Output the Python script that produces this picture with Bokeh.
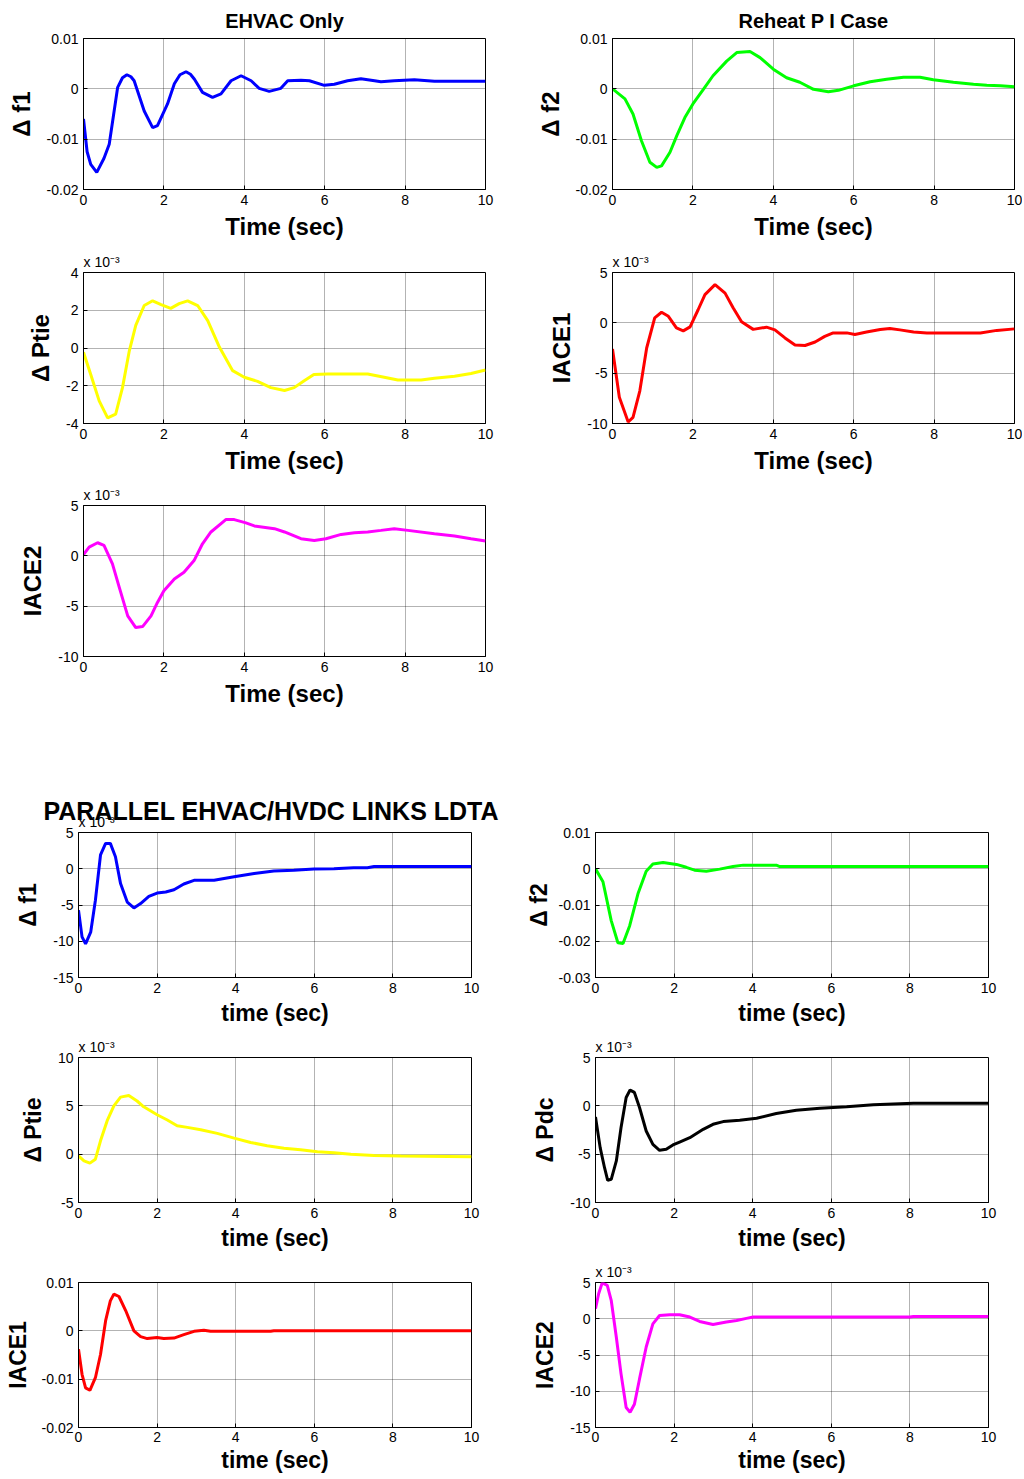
from bokeh.plotting import figure
from bokeh.models import Range1d, FixedTicker, CustomJSTickFormatter, Title
from bokeh.layouts import column, row
from bokeh.embed import file_html
from bokeh.resources import INLINE

FONT = "Liberation Sans"

# ---------------- data: EHVAC only / Reheat PI case ----------------
time_ticks = [0, 2, 4, 6, 8, 10]
scale_note = "x 10⁻³"

t_ehvac_df1 = [0, 0.09, 0.18, 0.33, 0.51, 0.64, 0.85, 0.97, 1.08, 1.18, 1.26, 1.51, 1.72, 1.84, 2.09, 2.26,
               2.4, 2.55, 2.66, 2.76, 2.96, 3.21, 3.42, 3.67, 3.92, 4.17, 4.37, 4.62, 4.91, 5.08, 5.41,
               5.62, 5.99, 6.24, 6.57, 6.9, 7.24, 7.4, 7.73, 8.23, 8.73, 10]
ehvac_df1 = [-0.006, -0.0125, -0.015, -0.0166, -0.0138, -0.011, 0.0003, 0.0022, 0.0028, 0.0024, 0.0016,
             -0.0044, -0.0077, -0.0073, -0.003, 0.001, 0.0028, 0.0034, 0.0029, 0.0019, -0.0007, -0.0017,
             -0.001, 0.0016, 0.0026, 0.0016, 0.0001, -0.0005, 0.0001, 0.0016, 0.0017, 0.0016, 0.0007,
             0.0009, 0.0016, 0.002, 0.0016, 0.0014, 0.0016, 0.0018, 0.0015, 0.0015]
ehvac_df1_ticks = [-0.02, -0.01, 0, 0.01]

t_ehvac_df2 = [0, 0.31, 0.51, 0.72, 0.93, 1.1, 1.22, 1.43, 1.6, 1.8, 2.0, 2.26, 2.5, 2.84, 3.09, 3.42, 3.67,
               4.0, 4.33, 4.66, 5.0, 5.37, 5.62, 6.0, 6.41, 6.82, 7.24, 7.65, 7.98, 8.48, 8.98, 9.31, 9.65, 10]
ehvac_df2 = [0, -0.002, -0.005, -0.0103, -0.0146, -0.0156, -0.0153, -0.0126, -0.0093, -0.0057, -0.003,
             -0.0001, 0.0026, 0.0055, 0.0072, 0.0074, 0.0062, 0.0039, 0.0022, 0.0013, -0.0001, -0.0006,
             -0.0003, 0.0006, 0.0014, 0.0019, 0.0023, 0.0023, 0.0018, 0.0013, 0.0009, 0.0007, 0.0006, 0.0004]
ehvac_df2_ticks = [-0.02, -0.01, 0, 0.01]

# values below in units of 1e-3
t_ehvac_ptie = [0, 0.18, 0.39, 0.6, 0.8, 0.97, 1.14, 1.3, 1.51, 1.72, 1.93, 2.17, 2.38, 2.59, 2.84, 3.09,
                3.38, 3.71, 4.0, 4.33, 4.66, 5.0, 5.24, 5.49, 5.73, 6.07, 7.07, 7.48, 7.82, 8.4, 8.73,
                9.23, 9.64, 10]
ehvac_ptie_e3 = [-0.23, -1.4, -2.8, -3.7, -3.5, -2.1, -0.15, 1.2, 2.25, 2.5, 2.3, 2.1, 2.35, 2.5, 2.25,
                 1.45, 0.05, -1.2, -1.55, -1.77, -2.1, -2.25, -2.1, -1.73, -1.4, -1.38, -1.38, -1.55,
                 -1.7, -1.7, -1.6, -1.5, -1.35, -1.17]
ehvac_ptie_ticks = [-4, -2, 0, 2, 4]

t_ehvac_iace1 = [0, 0.17, 0.39, 0.51, 0.68, 0.85, 1.05, 1.22, 1.39, 1.59, 1.76, 1.93, 2.13, 2.3, 2.55,
                 2.8, 3.0, 3.21, 3.5, 3.83, 4.04, 4.29, 4.54, 4.79, 5.04, 5.28, 5.49, 5.83, 6.03, 6.32,
                 6.66, 6.9, 7.15, 7.49, 7.82, 8.32, 9.15, 9.56, 10]
ehvac_iace1_e3 = [-2.6, -7.4, -9.85, -9.4, -6.75, -2.5, 0.5, 1.05, 0.65, -0.5, -0.8, -0.4, 1.3, 2.8, 3.8,
                  2.95, 1.5, 0.1, -0.65, -0.43, -0.7, -1.5, -2.2, -2.25, -1.9, -1.35, -1.0, -1.0, -1.15,
                  -0.92, -0.66, -0.56, -0.7, -0.92, -1.0, -1.0, -1.0, -0.75, -0.6]
ehvac_iace1_ticks = [-10, -5, 0, 5]

t_ehvac_iace2 = [0, 0.14, 0.35, 0.51, 0.72, 0.89, 1.1, 1.3, 1.47, 1.68, 1.84, 2.0, 2.26, 2.5, 2.75, 2.96,
                 3.17, 3.54, 3.75, 4.04, 4.25, 4.75, 5.0, 5.41, 5.74, 6.03, 6.41, 6.74, 7.07, 7.4, 7.73,
                 8.07, 8.73, 9.23, 9.64, 10]
ehvac_iace2_e3 = [0.13, 0.87, 1.3, 1.03, -0.8, -3.13, -5.97, -7.13, -7.03, -5.97, -4.63, -3.47, -2.3,
                  -1.63, -0.47, 1.2, 2.37, 3.6, 3.6, 3.27, 2.97, 2.7, 2.37, 1.7, 1.53, 1.7, 2.13, 2.3,
                  2.37, 2.53, 2.7, 2.53, 2.2, 1.97, 1.7, 1.47]
ehvac_iace2_ticks = [-10, -5, 0, 5]

# ---------------- data: parallel EHVAC/HVDC links LDTA ----------------
t_hvdc_df1 = [0, 0.09, 0.18, 0.31, 0.43, 0.56, 0.69, 0.81, 0.94, 1.07, 1.24, 1.41, 1.58, 1.79, 2.0, 2.22,
              2.43, 2.68, 2.94, 3.45, 3.96, 4.47, 4.97, 5.48, 5.99, 6.5, 7.0, 7.35, 7.52, 8.62, 10]
hvdc_df1_e3 = [-5.7, -9.4, -10.35, -8.75, -4.35, 1.9, 3.5, 3.5, 1.65, -2.05, -4.6, -5.4, -4.8, -3.8,
               -3.35, -3.2, -2.9, -2.1, -1.6, -1.6, -1.1, -0.65, -0.3, -0.2, -0.05, 0.0, 0.15, 0.15,
               0.3, 0.3, 0.3]
hvdc_df1_ticks = [-15, -10, -5, 0, 5]

t_hvdc_df2 = [0, 0.19, 0.4, 0.57, 0.7, 0.87, 1.08, 1.29, 1.46, 1.72, 2.06, 2.31, 2.52, 2.82, 3.16, 3.5,
              3.76, 4.6, 4.69, 10]
hvdc_df2 = [0, -0.0036, -0.0143, -0.0204, -0.0206, -0.0157, -0.0069, -0.0007, 0.0013, 0.0017, 0.0012,
            0.0004, -0.0004, -0.0007, -0.0001, 0.0006, 0.001, 0.001, 0.0006, 0.0006]
hvdc_df2_ticks = [-0.03, -0.02, -0.01, 0, 0.01]

t_hvdc_ptie = [0, 0.14, 0.29, 0.43, 0.56, 0.73, 0.9, 1.07, 1.28, 1.49, 1.66, 2.0, 2.26, 2.51, 2.77, 3.11,
               3.53, 3.96, 4.38, 4.8, 5.23, 5.65, 6.08, 6.5, 6.93, 7.52, 8.2, 10]
hvdc_ptie_e3 = [-0.17, -0.7, -0.93, -0.52, 1.38, 3.46, 5.0, 5.9, 6.06, 5.5, 4.9, 4.08, 3.53, 2.94, 2.77,
                2.53, 2.15, 1.66, 1.21, 0.87, 0.62, 0.45, 0.24, 0.14, 0.0, -0.14, -0.2, -0.28]
hvdc_ptie_ticks = [-5, 0, 5, 10]

t_hvdc_pdc = [0, 0.12, 0.23, 0.31, 0.4, 0.53, 0.65, 0.78, 0.88, 0.99, 1.12, 1.29, 1.46, 1.63, 1.8, 1.97,
              2.14, 2.4, 2.74, 2.99, 3.25, 3.67, 4.1, 4.6, 5.11, 5.71, 6.39, 7.07, 7.41, 8.09, 10]
hvdc_pdc_e3 = [-1.15, -4.35, -6.4, -7.7, -7.6, -5.7, -2.25, 0.87, 1.63, 1.39, -0.17, -2.6, -3.99, -4.6,
               -4.5, -4.05, -3.75, -3.3, -2.43, -1.91, -1.63, -1.49, -1.28, -0.8, -0.45, -0.24, -0.1,
               0.1, 0.17, 0.28, 0.28]
hvdc_pdc_ticks = [-10, -5, 0, 5]

t_hvdc_iace1 = [0, 0.09, 0.18, 0.29, 0.43, 0.56, 0.69, 0.81, 0.9, 1.03, 1.2, 1.41, 1.58, 1.75, 2.0, 2.17,
                2.43, 2.68, 2.94, 3.19, 3.36, 4.89, 4.97, 10]
hvdc_iace1 = [-0.0038, -0.009, -0.0118, -0.0123, -0.0097, -0.0049, 0.0021, 0.0062, 0.0076, 0.0071,
              0.0042, 0.0, -0.0012, -0.0016, -0.0014, -0.0016, -0.0015, -0.0008, -0.0001, 0.0001,
              -0.0001, -0.0001, 0.0, 0.0]
hvdc_iace1_ticks = [-0.02, -0.01, 0, 0.01]

t_hvdc_iace2 = [0, 0.08, 0.17, 0.3, 0.4, 0.53, 0.65, 0.78, 0.88, 0.99, 1.12, 1.29, 1.46, 1.63, 1.89, 2.14,
                2.4, 2.65, 2.99, 3.33, 3.59, 3.84, 4.01, 8.0, 8.09, 10]
hvdc_iace2_e3 = [1.4, 3.45, 4.95, 4.6, 2.55, -2.55, -7.6, -12.25, -12.9, -11.8, -8.3, -3.9, -0.7, 0.45,
                 0.55, 0.55, 0.23, -0.37, -0.8, -0.45, -0.25, 0.05, 0.23, 0.23, 0.32, 0.32]
hvdc_iace2_ticks = [-15, -10, -5, 0, 5]


def make_panel(t, y, color, yticks, ylabel, xlabel, fw, fh, bl, br, bt, bb,
               title=None, title_size="20px", title_align="center", title_offset=0, title_standoff=13,
               scaled=False, xlabel_size="24px", ylabel_size="24px",
               xlab_standoff=5, ylab_standoff=9, xtick_standoff=5):
    p = figure(frame_width=fw, frame_height=fh,
               x_range=Range1d(0, 10), y_range=Range1d(yticks[0], yticks[-1]),
               output_backend="svg", toolbar_location=None, title=title,
               min_border_left=bl, min_border_right=br, min_border_top=bt, min_border_bottom=bb,
               background_fill_color="white", border_fill_color="white")
    if title is not None:
        p.title.text_font = FONT
        p.title.text_font_size = title_size
        p.title.text_font_style = "bold"
        p.title.align = title_align
        p.title.offset = title_offset
        p.title.standoff = title_standoff
        p.title.text_color = "black"
    if scaled:
        p.add_layout(Title(text=scale_note, text_font=FONT, text_font_size="14px",
                           text_font_style="normal", text_color="black", align="left",
                           standoff=6), "above")
    p.outline_line_color = "black"
    p.outline_line_width = 1
    p.outline_line_alpha = 1

    p.line(t, y, line_color=color, line_width=3)

    fmt = CustomJSTickFormatter(code="return String(tick);")
    p.xaxis.ticker = FixedTicker(ticks=time_ticks)
    p.yaxis.ticker = FixedTicker(ticks=yticks)
    p.xaxis.formatter = fmt
    p.yaxis.formatter = fmt
    for ax in (p.xaxis[0], p.yaxis[0]):
        ax.minor_tick_line_color = None
        ax.major_tick_in = 4
        ax.major_tick_out = 0
        ax.axis_line_color = "black"
        ax.major_tick_line_color = "black"
        ax.major_label_text_font = FONT
        ax.major_label_text_font_size = "14px"
        ax.major_label_text_color = "black"
        ax.axis_label_text_font = FONT
        ax.axis_label_text_font_style = "bold"
        ax.axis_label_text_color = "black"
        ax.major_label_standoff = 5
    p.xaxis.major_label_standoff = xtick_standoff
    p.xaxis.axis_label = xlabel
    p.xaxis.axis_label_text_font_size = xlabel_size
    p.xaxis.axis_label_standoff = xlab_standoff
    p.yaxis.axis_label = ylabel
    p.yaxis.axis_label_text_font_size = ylabel_size
    p.yaxis.axis_label_standoff = ylab_standoff

    for g in (p.xgrid[0], p.ygrid[0]):
        g.grid_line_color = "black"
        g.grid_line_alpha = 0.6
        g.grid_line_dash = "1 1"
        g.grid_line_width = 1
    p.xgrid.ticker = FixedTicker(ticks=time_ticks)
    p.ygrid.ticker = FixedTicker(ticks=yticks)
    return p


# Top section (EHVAC only / Reheat PI case): left tile 525 wide, right tile 497 wide
pA1 = make_panel(t_ehvac_df1, ehvac_df1, "#0000FF", ehvac_df1_ticks, "Δ f1", "Time (sec)",
                 402, 151, 83, 40, 38, 57, title="EHVAC Only")
pA2 = make_panel(t_ehvac_df2, ehvac_df2, "#00FF00", ehvac_df2_ticks, "Δ f2", "Time (sec)",
                 402, 151, 87, 8, 38, 57, title="Reheat P I Case")
pB1 = make_panel(t_ehvac_ptie, ehvac_ptie_e3, "#FFFF00", ehvac_ptie_ticks, "Δ Ptie", "Time (sec)",
                 402, 151, 83, 40, 26, 56, scaled=True)
pB2 = make_panel(t_ehvac_iace1, ehvac_iace1_e3, "#FF0000", ehvac_iace1_ticks, "IACE1", "Time (sec)",
                 402, 151, 87, 8, 26, 56, scaled=True)
pC1 = make_panel(t_ehvac_iace2, ehvac_iace2_e3, "#FF00FF", ehvac_iace2_ticks, "IACE2", "Time (sec)",
                 402, 151, 83, 40, 26, 72, scaled=True)

# Bottom section (parallel EHVAC/HVDC links): left tile 520 wide, right tile 502 wide
pD1 = make_panel(t_hvdc_df1, hvdc_df1_e3, "#0000FF", hvdc_df1_ticks, "Δ f1", "time (sec)",
                 393, 145, 78, 49, 104, 54, scaled=True,
                 title="PARALLEL EHVAC/HVDC LINKS LDTA", title_size="25px", title_align="left",
                 title_offset=-35, title_standoff=-33,
                 xlabel_size="23px", ylabel_size="23px", xlab_standoff=4)
pD2 = make_panel(t_hvdc_df2, hvdc_df2, "#00FF00", hvdc_df2_ticks, "Δ f2", "time (sec)",
                 393, 145, 75, 34, 104, 54, xlabel_size="23px", ylabel_size="23px", ylab_standoff=4,
                 xlab_standoff=4)
pE1 = make_panel(t_hvdc_ptie, hvdc_ptie_e3, "#FFFF00", hvdc_ptie_ticks, "Δ Ptie", "time (sec)",
                 393, 145, 78, 49, 26, 54, scaled=True, xlabel_size="23px", ylabel_size="23px",
                 xlab_standoff=4)
pE2 = make_panel(t_hvdc_pdc, hvdc_pdc_e3, "#000000", hvdc_pdc_ticks, "Δ Pdc", "time (sec)",
                 393, 145, 75, 34, 26, 54, scaled=True, xlabel_size="23px", ylabel_size="23px",
                 xlab_standoff=4)
pF1 = make_panel(t_hvdc_iace1, hvdc_iace1, "#FF0000", hvdc_iace1_ticks, "IACE1", "time (sec)",
                 393, 145, 78, 49, 26, 51, xlabel_size="23px", ylabel_size="23px",
                 xlab_standoff=2, xtick_standoff=4, ylab_standoff=8)
pF2 = make_panel(t_hvdc_iace2, hvdc_iace2_e3, "#FF00FF", hvdc_iace2_ticks, "IACE2", "time (sec)",
                 393, 145, 75, 34, 26, 51, scaled=True, xlabel_size="23px", ylabel_size="23px",
                 xlab_standoff=2, xtick_standoff=4)

layout = column(
    row(pA1, pA2, spacing=0),
    row(pB1, pB2, spacing=0),
    row(pC1, spacing=0),
    row(pD1, pD2, spacing=0),
    row(pE1, pE2, spacing=0),
    row(pF1, pF2, spacing=0),
    spacing=0,
)

open("out.html", "w").write(file_html(layout, INLINE, title="LFC responses"))
